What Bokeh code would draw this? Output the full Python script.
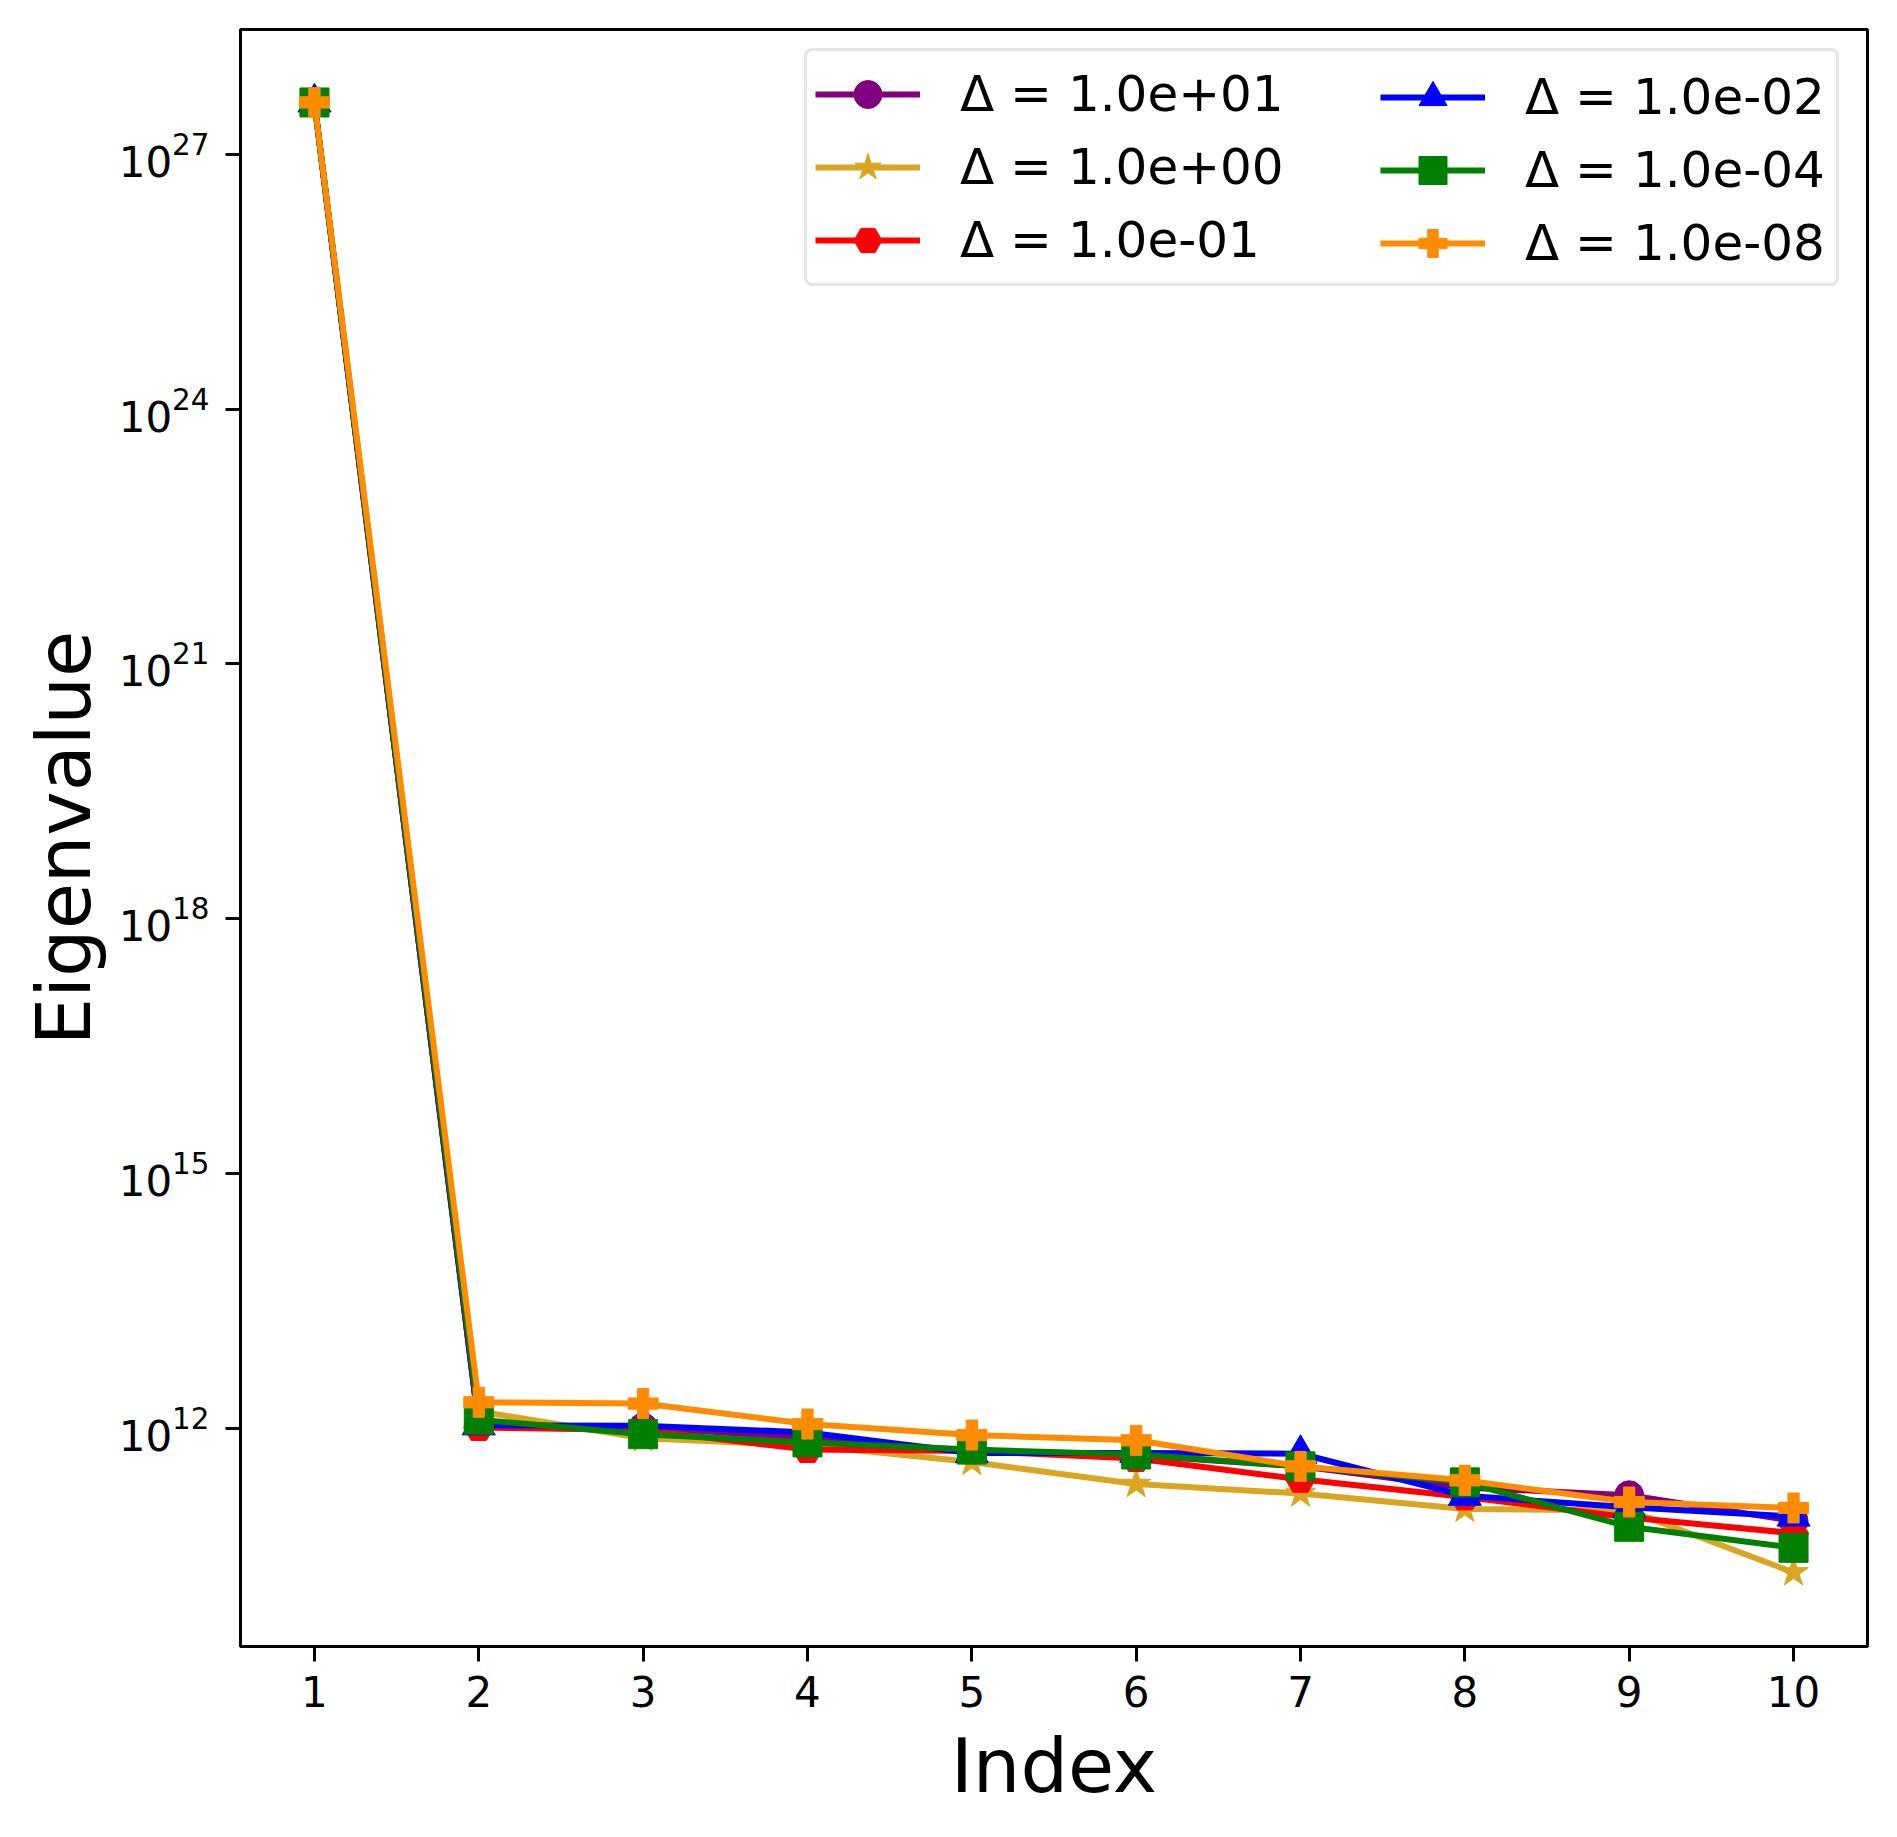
from bokeh.plotting import figure
from bokeh.models import Range1d, FixedTicker, Legend, LegendItem
from bokeh.embed import file_html
from bokeh.resources import INLINE

# ---------------- data ----------------
index = [1, 2, 3, 4, 5, 6, 7, 8, 9, 10]
labels = ["Δ = 1.0e+01", "Δ = 1.0e+00", "Δ = 1.0e-01",
          "Δ = 1.0e-02", "Δ = 1.0e-04", "Δ = 1.0e-08"]
eig_d1e1 = [4.1e27, 1.07e12, 1.02e12, 7.76e11, 5.37e11, 4.79e11, 3.55e11, 2.0e11, 1.62e11, 8.1e10]
eig_d1e0 = [4.1e27, 1.58e12, 7.6e11, 6.3e11, 4.0e11, 2.2e11, 1.7e11, 1.12e11, 1.07e11, 2.0e10]
eig_d1em1 = [4.1e27, 1.02e12, 9.5e11, 5.6e11, 5.4e11, 4.4e11, 2.5e11, 1.55e11, 8.9e10, 5.8e10]
eig_d1em2 = [4.1e27, 1.08e12, 1.07e12, 8.9e11, 5.1e11, 5.1e11, 5.0e11, 1.6e11, 1.17e11, 9.1e10]
eig_d1em4 = [4.1e27, 1.26e12, 8.5e11, 6.8e11, 5.6e11, 4.9e11, 3.55e11, 2.3e11, 6.9e10, 3.9e10]
eig_d1em8 = [4.1e27, 2.02e12, 1.95e12, 1.12e12, 8.3e11, 7.2e11, 3.55e11, 2.43e11, 1.35e11, 1.15e11]
y_ticks = [1e12, 1e15, 1e18, 1e21, 1e24, 1e27]
x_ticks = [1, 2, 3, 4, 5, 6, 7, 8, 9, 10]

series = [eig_d1e1, eig_d1e0, eig_d1em1, eig_d1em2, eig_d1em4, eig_d1em8]
colors = ["#800080", "#DAA520", "#FF0000", "#0000FF", "#008000", "#FF8C00"]
markers = ["circle", "star", "hex", "triangle", "square", "plus"]
msizes = [29, 31, 30, 33, 29, 30]

FONT = "DejaVu Sans"

p = figure(width=1889, height=1830, output_backend="svg", toolbar_location=None,
           y_axis_type="log",
           x_range=Range1d(0.55, 10.45),
           y_range=Range1d(10 ** 9.429, 10 ** 28.472),
           min_border_left=240, min_border_right=22,
           min_border_top=29, min_border_bottom=184)
p.background_fill_color = "white"
p.border_fill_color = "white"
p.outline_line_color = "black"
p.outline_line_width = 3
p.xgrid.visible = False
p.ygrid.visible = False

for ax in (p.xaxis[0], p.yaxis[0]):
    ax.axis_line_width = 3
    ax.major_tick_line_width = 3
    ax.major_tick_out = 15
    ax.major_tick_in = 0
    ax.minor_tick_line_color = None
    ax.major_label_text_font = FONT
    ax.major_label_text_font_size = "42px"
    ax.major_label_text_color = "black"
    ax.major_label_standoff = 14
    ax.axis_label_text_font = FONT
    ax.axis_label_text_font_size = "75px"
    ax.axis_label_text_font_style = "normal"
    ax.axis_label_text_color = "black"

p.yaxis[0].major_label_standoff = 16
p.xaxis[0].ticker = FixedTicker(ticks=x_ticks, minor_ticks=[])
p.yaxis[0].ticker = FixedTicker(ticks=y_ticks, minor_ticks=[])
p.xaxis[0].axis_label = "Index"
p.yaxis[0].axis_label = "Eigenvalue"
p.xaxis[0].axis_label_standoff = 12
p.yaxis[0].axis_label_standoff = 8

items = []
for vals, col, mk, ms, lab in zip(series, colors, markers, msizes, labels):
    lr = p.line(index, vals, line_color=col, line_width=6)
    sr = p.scatter(index, vals, marker=mk, size=ms, fill_color=col, line_color=col, line_width=1)
    items.append(LegendItem(label=lab, renderers=[lr, sr]))

common = dict(label_text_font=FONT, label_text_font_size="50px", label_text_color="black",
              glyph_width=105, glyph_height=70, label_height=70, label_standoff=40,
              padding=8, spacing=3, margin=0, label_width=300,
              border_line_color="#cccccc", border_line_width=3)

leg1 = Legend(items=items[:3], location=(564, 1360),
              background_fill_color="white", background_fill_alpha=0.8, **common)
leg1.label_width = 868
leg2 = Legend(items=items[3:], location=(1132, 1360),
              background_fill_alpha=0.0, border_line_alpha=0.0, **common)
try:
    leg1.border_radius = 8
except Exception:
    pass
p.add_layout(leg1, "center")
p.add_layout(leg2, "center")

open("out.html", "w").write(file_html(p, INLINE))
